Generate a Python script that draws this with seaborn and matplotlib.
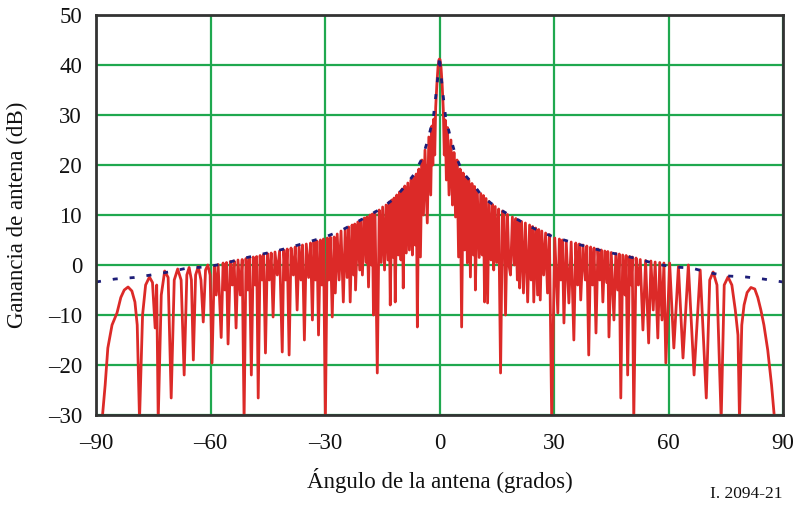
import matplotlib
matplotlib.use("Agg")
import matplotlib.pyplot as plt
import seaborn as sns
import pandas as pd

# ---- data ----
red_angle_left = [
    -88.4, -87.6, -86.9, -85.8, -84.5, -83.5, -82.6, -81.6, -80.6, -79.8, -79.2, -78.6,
    -77.8, -77.0, -76.0, -75.2, -74.5, -74.1, -73.7,
    -72.9, -72.0, -71.1, -70.3,
    -69.5, -68.6, -67.7, -66.9,
    -66.2, -65.6, -65.0, -64.5,
    -63.9, -63.2, -62.5, -61.9,
    -61.3, -60.7, -60.1, -59.6,
    -59.0, -58.5, -58.0, -57.2, -56.7, -56.2, -55.8, -55.4, -54.8, -54.3, -53.8, -53.3,
    -52.8, -52.2, -51.7, -51.2, -50.7, -50.2, -49.8, -49.3, -48.8, -48.3, -47.9, -47.5,
    -47.0, -46.5, -46.1, -45.6, -45.1, -44.6, -44.1, -43.6, -43.1, -42.5, -41.9, -41.2,
    -40.8, -40.3, -39.9, -39.4, -38.9, -38.3, -37.8, -37.3, -36.8, -36.3, -35.9, -35.4,
    -34.9, -34.3, -33.8, -33.3, -32.9, -32.5, -32.1, -31.7, -31.2, -30.8, -30.4, -29.9,
    -29.4, -29.0, -28.6, -28.1,
    -27.6, -27.3, -26.8, -26.3, -25.8, -25.2, -24.7, -24.2, -23.8, -23.4, -22.9, -22.5,
    -22.2, -22.0, -21.4, -20.9, -20.6, -20.2, -19.7, -19.2, -19.0, -18.6, -18.2, -17.8,
    -17.6, -17.3, -16.9, -16.3, -15.8, -15.3, -14.9, -14.4, -14.0, -13.5, -13.2, -12.9,
    -12.5, -12.1, -11.9, -11.6, -11.2, -10.8, -10.5, -10.1, -9.8, -9.5, -9.1, -8.7,
    -8.3, -7.9, -7.5, -7.1, -6.8, -6.4, -6.1, -5.8, -5.4, -5.0, -4.6, -4.2,
    -3.8, -3.2, -2.8, -2.3, -2.0, -1.75, -1.5, -1.25, -1.0, -0.7, -0.4, -0.15, 0.0,
]
red_gain_left = [
    -31, -24, -16.6, -12, -9.6, -6.5, -5.0, -4.4, -5.2, -7.4, -12, -31,
    -10, -4, -2.4, -3.5, -12.6, -4, -31,
    -6, -1.2, -2.5, -26.6,
    -3, -0.8, -3, -22,
    -2, -0.5, -3, -19,
    -2, -0.3, -3, -11.4,
    -1, 0.0, -2, -19.6,
    -0.3, -6, 0.1, -14.5, 0.4, -5, 0.5, -15.8, 0.7, -4, 0.8, -12.6,
    1.0, -6, 1.1, -31, 1.3, -5, 1.4, -22, 1.6, -4, 1.7, -26.6,
    1.9, -3, 2.1, -17.6, 2.3, -3, 2.4, -10.4, 2.6, -2, 2.8, -17.4,
    3.0, -3, 3.2, -18, 3.4, -2, 3.6, -9, 3.8, -3, 4.0, -15,
    4.2, -2.5, 4.4, -11, 4.6, -3, 4.8, -14, 5.0, -4, 5.2, -31,
    5.4, -3, 5.6, -10.4,
    5.6, -5.6, 6.2, -3.0, 6.8, -7.4, 7.2, -2.5, 7.6, -7.4, 8.0, -2.0,
    8.2, -5.0, 8.6, -1.0, 9.0, -2.0, 9.4, 0.5, 9.6, -4.4, 10.0, 0.0,
    10.2, -10.0, 10.6, -21.6, 11.0, 0.5, 11.6, -1.0, 12.0, 1.0, 12.6, -8.0,
    13.0, 1.5, 13.4, -7.4, 14.0, 2.0, 14.6, 1.0, 15.2, -4.6, 15.8, 2.4,
    16.4, 3.0, 17.0, 2.0, 17.6, 4.0, 18.2, -12.4, 19.2, 1.6, 21.0, 10.0,
    23.0, 8.4, 25.6, 14.0, 27.8, 20.0, 29.2, 22.0, 31.5, 36.0, 39.5, 41.0, 41.2,
]
red_angle_right = [
    0.15, 0.4, 0.7, 1.0, 1.25, 1.5, 1.8, 2.1, 2.5, 3.0, 3.4, 3.8, 4.2, 4.6, 5.0, 5.4,
    5.8, 6.2, 6.6, 7.0, 7.3, 7.7, 8.1, 8.5, 8.9, 9.2, 9.4, 9.9, 10.4, 10.8, 11.2, 11.5,
    11.8, 12.2, 12.6, 13.0, 13.5, 13.9, 14.2, 14.6, 15.0, 15.5, 16.0, 16.5, 16.9, 17.3,
    17.8, 18.2, 18.6, 19.1, 19.6, 20.0, 20.4, 20.8, 21.0, 21.5, 22.0, 22.5, 23.1, 23.6,
    24.0, 24.4, 24.7, 25.2, 25.7, 26.0, 26.4, 26.8, 27.3, 27.8, 28.3, 28.8, 29.4,
    30.2, 31.0, 31.4, 31.8, 32.2, 32.6, 33.2, 33.9, 34.5, 35.2, 35.7, 36.2, 36.6, 37.0,
    37.6, 38.2, 38.6, 39.1, 39.6, 40.1, 40.5, 41.0, 41.5, 42.0, 42.4, 42.8, 43.3, 43.8,
    44.1, 44.4, 45.0, 45.7, 46.2, 46.7, 47.1, 47.5, 48.0, 48.6, 48.9, 49.3, 49.8, 50.2,
    50.5, 50.9, 51.5, 52.1, 52.6, 53.3, 54.0, 54.8, 55.4, 56.0, 56.5, 57.2, 57.7, 58.3,
    58.8, 59.3, 60.3, 61.4, 62.6, 63.8, 65.2, 66.7, 68.3, 69.9, 70.8, 71.7, 72.7, 73.8,
    74.6, 75.6, 76.6, 77.5, 78.2, 78.6, 79.2, 79.8, 80.6, 81.6, 82.6, 83.4, 84.2, 85.0,
    86.0, 87.0, 87.8,
]
red_gain_right = [
    41.0, 39.5, 36.0, 31.0, 22.0, 29.0, 17.0, 27.5, 14.0, 25.0, 12.0, 22.5, 9.6, 21.0, 1.6, 19.2,
    -12.4, 18.4, 3.0, 17.6, 0.4, 17.0, -2.4, 16.3, 2.0, 15.7, -5.0, 15.0, 1.5, 14.3, 2.0, 13.9,
    -7.4, 13.3, -7.6, 12.7, 1.0, 12.1, -1.0, 11.7, 0.5, 11.2, -21.6, 10.8, 10.5, -10.0,
    10.1, 0.0, -2.0, 9.6, 0.0, 9.3, -3.0, 9.0, -4.6, 8.7, -5.6, 8.4, -7.4, 8.0,
    -3.0, 7.7, -7.4, 7.4, -6.0, 7.1, -7.0, 6.8, -2.0, 6.4, -5.6, 6.1, -31,
    5.4, -9.6, 5.2, -3.0, 5.0, -11.6, 4.8, -7.6, 4.6, -15.0, 4.4, -4.0, 4.2, -7.0,
    4.0, -3.0, 3.8, -18.0, 3.6, -4.0, 3.4, -13.6, 3.2, -3.0, 3.0, -7.4, 2.8, -3.5,
    2.7, -14.4, 2.5, -11.0, 2.3, -5.0, 2.2, -26.6, 2.0, -6.0, 1.9, -22.0, 1.7, -4.0,
    1.6, -31, 1.4, -4.0, 1.1, -13.0, 0.9, -15.6, 0.8, -9.0, 0.6, -14.6, 0.5, -11.0,
    0.4, -19.6, 0.4, -16.6, -0.3, -18.6, 0.0, -22.0, -1.0, -26.6, -3.0, -1.4, -4.0, -31,
    -4.0, -2.4, -4.0, -9.0, -14.0, -31, -12.0, -8.0, -5.5, -4.5, -4.8, -6.5, -9.0, -12.0,
    -17.0, -24.0, -31,
]

env_angle = [-90, -85, -80, -75.6, -71, -66, -61.4, -56.7, -52.2, -47.5, -42.8, -38.8,
             -34.4, -30, -26, -22.6, -19.2, -15.5, -12, -9.4, -6.8, -4.5, -2.9, -1.6,
             -1.0, -0.3, 0, 0.3, 1.0, 1.6, 2.9, 4.2, 6.0, 9.0, 11.3, 15.2, 19.2, 22.6,
             26, 30, 34.4, 38.8, 42.8, 47.5, 52.2, 56.7, 61.4, 66, 71, 75.6, 80.3, 84.8, 90]
env_gain = [-3.4, -2.8, -2.5, -2.0, -1.4, -0.6, -0.4, 0.2, 1.2, 2.0, 2.8, 3.6,
            4.6, 5.6, 6.8, 8.2, 9.6, 11.2, 13.2, 15.4, 18.0, 21.4, 25.4, 29.6,
            33.6, 38.6, 42.0, 38.6, 33.6, 29.6, 25.4, 22.0, 18.6, 16.0, 13.6, 11.4, 9.6, 8.2,
            6.8, 5.6, 4.6, 3.6, 2.8, 2.0, 1.2, 0.2, -0.4, -0.6, -1.6, -2.2, -2.4, -2.8, -3.4]

x_ticks = [-90, -60, -30, 0, 30, 60, 90]
x_tick_labels = ["\u201390", "\u201360", "\u201330", "0", "30", "60", "90"]
y_ticks = [-30, -20, -10, 0, 10, 20, 30, 40, 50]
y_tick_labels = ["\u201330", "\u201320", "\u201310", "0", "10", "20", "30", "40", "50"]

x_label = "Ángulo de la antena (grados)"
y_label = "Ganancia de antena (dB)"
ref_label = "I. 2094-21"

# ---- plotting ----
sns.set_style("white")
plt.rcParams["font.family"] = ["Liberation Serif", "DejaVu Serif"]

red_df = pd.DataFrame({"angle": red_angle_left + red_angle_right,
                       "gain": red_gain_left + red_gain_right})
env_df = pd.DataFrame({"angle": env_angle, "gain": env_gain})

fig = plt.figure(figsize=(7.95, 5.05), dpi=100)
ax = fig.add_axes([96 / 795, 90 / 505, 687 / 795, 400 / 505])

sns.lineplot(data=red_df, x="angle", y="gain", ax=ax, color="#dc2a28",
             linewidth=2.0, estimator=None, sort=False, zorder=3)
sns.lineplot(data=env_df, x="angle", y="gain", ax=ax, color="#1e1e78",
             linewidth=2.0, estimator=None, sort=False, zorder=4,
             dashes=False)
ax.lines[-1].set_dashes([1.8, 4.3])

ax.set_xlim(-90, 90)
ax.set_ylim(-30, 50)
ax.set_xticks(x_ticks)
ax.set_xticklabels(x_tick_labels)
ax.set_yticks(y_ticks)
ax.set_yticklabels(y_tick_labels)
ax.tick_params(axis="both", length=0, labelsize=16.5, colors="#111111")
ax.tick_params(axis="x", pad=13)
ax.tick_params(axis="y", pad=10)

ax.set_axisbelow(True)
ax.grid(True, color="#1fa84f", linewidth=1.6)
for sp in ax.spines.values():
    sp.set_color("#333333")
    sp.set_linewidth(2.0)
    sp.set_zorder(5)

ax.set_xlabel(x_label, fontsize=16.5, labelpad=10, color="#111111")
ax.set_ylabel(y_label, fontsize=16.5, labelpad=14, color="#111111")
fig.text(783 / 795, 1 - 494 / 505, ref_label, ha="right", va="center",
         fontsize=12.5, color="#111111")

fig.savefig("out.png", dpi=100, facecolor="white")
